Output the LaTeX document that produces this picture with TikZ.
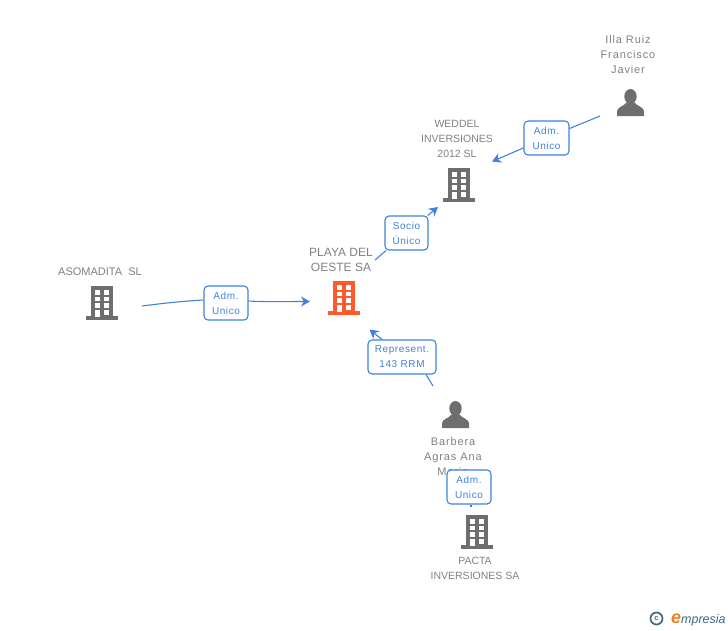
\documentclass[tikz,border=0pt]{standalone}
\usepackage{fontspec}
\setmainfont{Liberation Sans}
\usetikzlibrary{arrows.meta}
\definecolor{iconGray}{RGB}{110,110,110}
\definecolor{textGray}{RGB}{128,128,128}
\definecolor{linkBlue}{RGB}{62,130,224}
\definecolor{firmOrange}{RGB}{255,90,43}
\definecolor{logoTeal}{RGB}{62,106,130}
\definecolor{logoOrange}{RGB}{240,128,32}
\tikzset{
    %Define standard arrow tip
    >={Stealth[length=9pt,width=10pt]},
    nameText/.style 2 args={font=\fontsize{#1}{15}\selectfont\addfontfeature{LetterSpace=#2},text=textGray,align=center,inner sep=0pt},
    roleBox/.style={draw=linkBlue,fill=white,rounded corners=4pt,line width=1.1pt,font=\fontsize{10}{15}\selectfont\addfontfeature{LetterSpace=6},text=linkBlue,align=center,inner sep=0pt,minimum height=34pt},
    linkLine/.style={linkBlue,line width=1.1pt}
}
\def\bIcon#1#2{
    \begin{scope}[shift={#2}]
        \fill[#1] (-11,-17) rectangle (11,14);
        \fill[#1] (-16,13) rectangle (16,16.5);
        \foreach \row in {-13,-6.5,0} {
            \fill[white] (-7.5,\row) rectangle ++(5,4.5);
            \fill[white] (2,\row) rectangle ++(5,4.5);
        }
        \fill[white] (-7.5,7) rectangle (-2.5,14);
        \fill[white] (2,7) rectangle (7,11.5);
    \end{scope}
}
\def\pIcon#1{
    \begin{scope}[shift={#1}]
        \fill[iconGray] (0,-6) ellipse (6.2 and 7.5);
        \fill[iconGray] (-13.5,13.5) -- (-13.5,8.5) .. controls (-13,4.5) and (-7,4) .. (-4,0)
            -- (4,0) .. controls (7,4) and (13,4.5) .. (13.5,8.5) -- (13.5,13.5) -- cycle;
    \end{scope}
}

\begin{document}
\begin{tikzpicture}[x=1pt,y=-1pt]
    \useasboundingbox (0,0) rectangle (728,630);

    \node (illa) at (630.5,102.5) {};
    \node (weddel) at (459,185) {};
    \node (playa) at (344,298) {};
    \node (asomadita) at (102,303) {};
    \node (barbera) at (455.5,414.5) {};
    \node (pacta) at (477,532) {};
    \pIcon{(illa)}
    \bIcon{iconGray}{(weddel)}
    \bIcon{firmOrange}{(playa)}
    \bIcon{iconGray}{(asomadita)}
    \pIcon{(barbera)}
    \bIcon{iconGray}{(pacta)}

    \node[nameText={11}{8}] (illaT) at (628,55) {Illa Ruiz\\Francisco\\Javier};
    \node[nameText={10.5}{0}] (weddelT) at (457,139) {WEDDEL\\INVERSIONES\\2012 SL};
    \node[nameText={12}{0}] (playaT) at (341,259.5) {PLAYA DEL\\OESTE SA};
    \node[nameText={11}{0}] (asomaditaT) at (100,272) {ASOMADITA\ \ SL};
    \node[nameText={11}{8}] (barberaT) at (453,457) {Barbera\\Agras Ana\\Maria};
    \node[nameText={10.5}{0}] (pactaT) at (475,568.5) {PACTA\\INVERSIONES SA};

    \node[roleBox,minimum width=45pt] (admIlla) at (546.5,138) {Adm.\\Unico};
    \node[roleBox,minimum width=43pt] (socio) at (406.5,233) {Socio\\Único};
    \node[roleBox,minimum width=44pt] (admAso) at (226,303) {Adm.\\Unico};
    \node[roleBox,minimum width=68pt] (repre) at (402,357) {Represent.\\143 RRM};
    \node[roleBox,minimum width=44pt] (admBar) at (469,487) {Adm.\\Unico};

    \coordinate (illaOut) at (600,116);
    \coordinate (weddelIn) at (492,161.5);
    \coordinate (playaOut) at (375,260);
    \coordinate (weddelSoc) at (438,207);
    \coordinate (asoOut) at (142,306);
    \coordinate (playaIn) at (310,301.5);
    \coordinate (barOut) at (433,386);
    \coordinate (playaRep) at (369.5,329.5);
    \coordinate (pactaIn) at (471,507);

    \draw [linkLine] (illaOut) -- (admIlla);
    \draw [linkLine,->] (admIlla) -- (weddelIn);
    \draw [linkLine] (playaOut) -- (socio);
    \draw [linkLine,->] (socio) -- (weddelSoc);
    \draw [linkLine] (asoOut) .. controls (165,303) and (185,301) .. (admAso.west |- 0,300);
    \draw [linkLine,->] (admAso.east |- 0,301) .. controls (265,302) and (285,301.5) .. (playaIn);
    \draw [linkLine] (barOut) -- ([xshift=24pt]repre.south);
    \draw [linkLine,->] ([xshift=-20pt]repre.north) -- (playaRep);
    \draw [linkLine] ([xshift=2pt]admBar.south) -- (pactaIn);

    % logo
    \node[circle,draw=logoTeal,line width=1.7pt,minimum size=12pt,inner sep=0pt,text=logoTeal,font=\fontsize{7.5}{8}\bfseries\selectfont] (logoC) at (656.5,618.5) {c};
    \node[inner sep=0pt,anchor=base west,text=logoOrange,font=\fontsize{18}{18}\bfseries\itshape\selectfont] (logoE) at (671,623) {e};
    \node[inner sep=0pt,anchor=base west,text=logoTeal,font=\fontsize{12.5}{13}\itshape\selectfont] (logoT) at (681,623) {mpresia};
\end{tikzpicture}
\end{document}
